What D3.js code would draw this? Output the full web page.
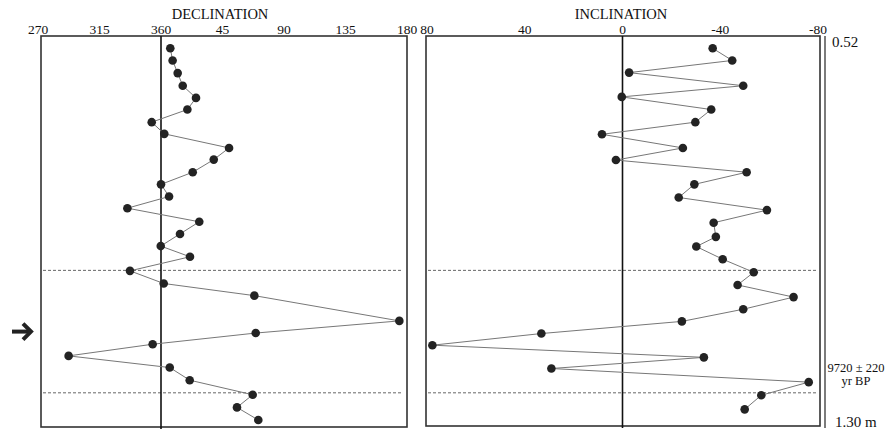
<!DOCTYPE html>
<html lang="en">
<head>
  <meta charset="UTF-8">
  <title>Declination / Inclination</title>
  <script type="text/javascript" src="https://d3js.org/d3.v7.min.js"></script>
  <style>
    body{ margin:0; background:#fff; }
    text{ font-family:"Liberation Serif","Times New Roman",serif; fill:#111; }
    .frame{ fill:none; stroke:#333; stroke-width:1.6; }
    .zero{ stroke:#111; stroke-width:1.6; }
    .trace{ fill:none; stroke:#777; stroke-width:1; }
    .dot{ fill:#232323; }
    .ref{ stroke:#666; stroke-width:1; stroke-dasharray:3,2; }
  </style>
</head>
<body>
  <svg></svg>
  <script type="text/javascript">

  // depth (cm) of each sample, declination (deg, 0-360) and inclination (deg)
  var declDepth = [53.3, 55.8, 58.4, 61.0, 63.5, 65.9, 68.5, 70.9, 73.8, 76.2,
                   78.8, 81.3, 83.8, 86.2, 89.0, 91.5, 94.0, 96.2, 99.1, 101.7,
                   104.2, 109.4, 111.9, 114.2, 116.6, 119.0, 121.6, 124.6, 127.2, 129.8];
  var declination = [6.8, 8.5, 12.2, 15.9, 25.6, 19.3, 353.2, 2.4, 49.8, 38.6,
                     23.2, 0, 5.9, 335.4, 28, 13.9, 359.8, 21.2, 337.3, 2,
                     68.3, 174.4, 69.3, 353.9, 292.4, 6.4, 21, 67.1, 55.6, 71.2];
  var inclDepth = [53.3, 55.8, 58.3, 61.0, 63.3, 65.9, 68.5, 71.0, 73.8, 76.3,
                   78.8, 81.3, 84.0, 86.6, 89.2, 92.1, 94.1, 96.7, 99.4, 102.0,
                   104.5, 107.0, 109.5, 112.0, 114.4, 116.9, 119.2, 122.0, 124.7, 127.6];
  var inclination = [-36.9, -44.9, -2.7, -49.4, 0.3, -36.3, -29.8, 8.4, -24.7, 2.7,
                     -50.8, -29.4, -23, -59.1, -37.3, -38.2, -30.2, -41, -53.7, -47.1,
                     -70, -49.4, -24.3, 33.2, 77.8, -33.3, 29.1, -76.2, -56.8, -50];
  var declTicks = [-90, -45, 0, 45, 90, 135, 180];
  var inclTicks = [80, 40, 0, -40, -80];
  var dashedDepths = [99.0, 124.2];
  var arrowDepth = 111.6;
  var topDepth = 52, bottomDepth = 130;
  var ageLabel = ["9720 \u00b1 220", "yr BP"];

  var W = 895, H = 430,
    SVG = d3.select("svg").attr("width", W).attr("height", H),
    boxTop = 36;

  var y = d3.scaleLinear().domain([topDepth, bottomDepth]).range([42, 421]);
  var xD = d3.scaleLinear().domain([-90, 180]).range([38, 407]);
  var xI = d3.scaleLinear().domain([80, -80]).range([427, 818]);

  function wrapDeg(v){ return v > 180 ? v - 360 : v; }
  function declLabel(v){ return v <= 0 ? String(v + 360) : String(v); }

  function panel(x, box, bottom, depths, values, ticks, fmt, title){
    var g = SVG.append("g");
    var pts = depths.map(function(d, i){ return [x(values[i]), y(d)]; });

    dashedDepths.forEach(function(d){
      g.append("line").attr("class", "ref")
        .attr("x1", box[0] + 2).attr("x2", box[1] - 4)
        .attr("y1", y(d)).attr("y2", y(d));
    });

    g.append("rect").attr("class", "frame")
      .attr("x", box[0]).attr("y", boxTop)
      .attr("width", box[1] - box[0]).attr("height", bottom - boxTop);

    g.append("line").attr("class", "zero")
      .attr("x1", x(0)).attr("x2", x(0))
      .attr("y1", boxTop).attr("y2", bottom + 2);

    g.append("path").attr("class", "trace")
      .attr("d", d3.line()(pts));

    g.selectAll("circle").data(pts).enter().append("circle")
      .attr("class", "dot")
      .attr("cx", function(d){ return d[0]; })
      .attr("cy", function(d){ return d[1]; })
      .attr("r", 4.3);

    g.selectAll("text.tick").data(ticks).enter().append("text")
      .attr("class", "tick")
      .attr("x", function(d){ return x(d); })
      .attr("y", 34)
      .attr("text-anchor", "middle")
      .style("font-size", "13.5px")
      .text(fmt);

    g.append("text")
      .attr("x", (box[0] + box[1]) / 2 + (title == "DECLINATION" ? -4 : -2))
      .attr("y", 19)
      .attr("text-anchor", "middle")
      .style("font-size", "14.5px")
      .text(title);
  }

  panel(xD, [41, 407], 427, declDepth, declination.map(wrapDeg), declTicks, declLabel, "DECLINATION");
  panel(xI, [426, 820], 426, inclDepth, inclination, inclTicks, function(d){ return String(d); }, "INCLINATION");

  // depth bar on the right
  SVG.append("line").attr("x1", 825).attr("x2", 825)
    .attr("y1", boxTop).attr("y2", 428)
    .style("stroke", "#444").style("stroke-width", 1.4);

  SVG.append("text").attr("x", 832).attr("y", y(topDepth) + 5)
    .style("font-size", "15px").text(topDepth / 100 + "");
  SVG.append("text").attr("x", 835).attr("y", y(bottomDepth) + 6)
    .style("font-size", "15px").text((bottomDepth / 100).toFixed(2) + " m");
  SVG.selectAll("text.age").data(ageLabel).enter().append("text")
    .attr("class", "age")
    .attr("x", 856)
    .attr("y", function(d, i){ return 372 + i * 13; })
    .attr("text-anchor", "middle")
    .style("font-size", "12.5px")
    .text(function(d){ return d; });

  // arrow marking the excursion
  var ay = y(arrowDepth);
  SVG.append("path")
    .attr("d", "M12," + ay + " L30," + ay)
    .style("stroke", "#222").style("stroke-width", 4).style("fill", "none");
  SVG.append("path")
    .attr("d", "M23," + (ay - 8) + " L31," + ay + " L23," + (ay + 8))
    .style("stroke", "#222").style("stroke-width", 4).style("fill", "none")
    .style("stroke-linejoin", "miter");

  </script>
</body>
</html>
